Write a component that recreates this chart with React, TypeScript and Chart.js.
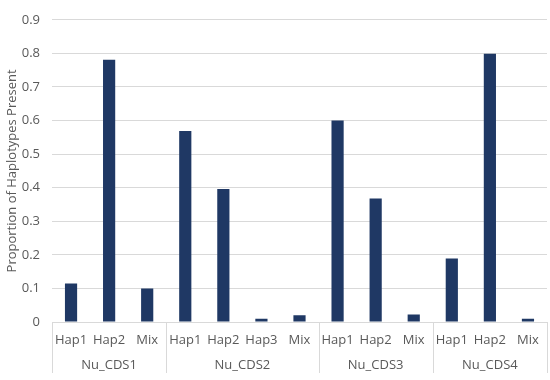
import React, { useEffect, useRef } from "react";
import { Chart, registerables } from "chart.js";

Chart.register(...registerables);

const groups = ["Nu_CDS1", "Nu_CDS2", "Nu_CDS3", "Nu_CDS4"];
const groupSubLabels = [
  ["Hap1", "Hap2", "Mix"],
  ["Hap1", "Hap2", "Hap3", "Mix"],
  ["Hap1", "Hap2", "Mix"],
  ["Hap1", "Hap2", "Mix"],
];
const groupValues = [
  [0.115, 0.781, 0.1],
  [0.569, 0.396, 0.01, 0.02],
  [0.6, 0.368, 0.022],
  [0.189, 0.799, 0.01],
];
const yTicks = [0, 0.1, 0.2, 0.3, 0.4, 0.5, 0.6, 0.7, 0.8, 0.9];
const yTitle = "Proportion of Haplotypes Present";

const FONT = "'Open Sans', sans-serif";
const TEXT = "#595959";
const GRID = "#D9D9D9";
const BAR = "#1F3864";

export default function App() {
  const ref = useRef<HTMLCanvasElement | null>(null);

  useEffect(() => {
    document.body.style.margin = "0";
    const labels: string[] = [];
    const values: number[] = [];
    groupSubLabels.forEach((subs, g) => {
      subs.forEach((s, i) => {
        labels.push(s);
        values.push(groupValues[g][i]);
      });
    });

    const groupPlugin = {
      id: "groupPlugin",
      afterDraw(chart: any) {
        const ctx = chart.ctx;
        const xs = chart.scales.x;
        const area = chart.chartArea;
        const top = area.bottom;
        const bottom = 373;
        ctx.save();
        ctx.strokeStyle = GRID;
        ctx.lineWidth = 1;
        ctx.fillStyle = TEXT;
        ctx.font = `13px ${FONT}`;
        ctx.textAlign = "center";
        ctx.textBaseline = "middle";
        let start = 0;
        const bounds: number[] = [area.left];
        groupSubLabels.forEach((subs, g) => {
          const end = start + subs.length - 1;
          const left =
            start === 0
              ? area.left
              : (xs.getPixelForValue(start - 1) + xs.getPixelForValue(start)) / 2;
          const right =
            end === labels.length - 1
              ? area.right
              : (xs.getPixelForValue(end) + xs.getPixelForValue(end + 1)) / 2;
          if (g > 0) bounds.push(left);
          ctx.fillText(groups[g], (left + right) / 2, 365);
          start = end + 1;
        });
        bounds.push(area.right);
        bounds.forEach((b) => {
          const x = Math.round(b) + 0.5;
          ctx.beginPath();
          ctx.moveTo(x, top);
          ctx.lineTo(x, bottom);
          ctx.stroke();
        });
        ctx.restore();
      },
    };

    const chart = new Chart(ref.current as HTMLCanvasElement, {
      type: "bar",
      data: {
        labels,
        datasets: [
          {
            data: values,
            backgroundColor: BAR,
            barPercentage: 0.32,
            categoryPercentage: 1,
          },
        ],
      },
      options: {
        animation: false,
        responsive: false,
        maintainAspectRatio: false,
        layout: { padding: { left: 0, right: 3, top: 7, bottom: 0 } },
        plugins: {
          legend: { display: false },
          tooltip: { enabled: false },
        },
        scales: {
          x: {
            grid: { display: false, drawTicks: false },
            border: { display: true, color: GRID },
            ticks: {
              color: TEXT,
              font: { family: FONT, size: 13 },
              padding: 10,
              maxRotation: 0,
              autoSkip: false,
            },
            afterFit(scale: any) {
              scale.height = 58;
            },
          },
          y: {
            min: 0,
            max: 0.9,
            grid: { color: GRID, drawTicks: false },
            border: { display: false },
            afterBuildTicks(scale: any) {
              scale.ticks = yTicks.map((v) => ({ value: v }));
            },
            ticks: {
              color: TEXT,
              font: { family: FONT, size: 13 },
              padding: 12,
              callback: (v: any) => String(Math.round(Number(v) * 10) / 10),
            },
            title: {
              display: true,
              text: yTitle,
              color: TEXT,
              font: { family: FONT, size: 13 },
              padding: { top: 4, bottom: 0 },
            },
            afterFit(scale: any) {
              scale.width = 52;
            },
          },
        },
      },
      plugins: [groupPlugin],
    });
    return () => chart.destroy();
  }, []);

  return (
    <div style={{ position: "fixed", left: 0, top: 0, width: 550, height: 380 }}>
      <canvas ref={ref} width={550} height={380} />
    </div>
  );
}
